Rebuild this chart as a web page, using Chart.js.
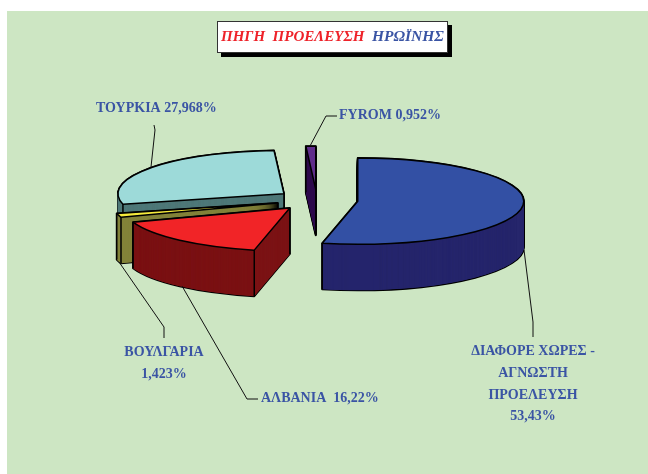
<!DOCTYPE html>
<html>
<head>
<meta charset="utf-8">
<style>
html,body{margin:0;padding:0;background:#fff;overflow:hidden}
canvas{display:block}
</style>
<script src="https://cdn.jsdelivr.net/npm/chart.js@4"></script>
</head>
<body>
<canvas id="c" width="648" height="474"></canvas>
<script>
const categories = ['ΔΙΑΦΟΡΕ ΧΩΡΕΣ - ΑΓΝΩΣΤΗ ΠΡΟΕΛΕΥΣΗ', 'ΑΛΒΑΝΙΑ', 'ΒΟΥΛΓΑΡΙΑ', 'ΤΟΥΡΚΙΑ', 'FYROM'];
const shares = [53.43, 16.22, 1.423, 27.968, 0.952];
const topColors = ['#3350a4', '#f12427', '#f5ea3c', '#9ddad9', '#5f2d8a'];
const sideColors = ['#26266c', '#7b1214', '#83833a', '#4f7878', '#330e4f'];

const SQUASH = 0.26, DEPTH = 46, EXPLODE = 164;
const INK = '#000', TEXT = '#3a54a4', RED = '#ee2229';
const LABEL_FONT = 'bold 14px "Liberation Serif"';

const labelLines = [
  {text: 'ΤΟΥΡΚΙΑ 27,968%', x: 96, y: 108, align: 'left'},
  {text: 'FYROM 0,952%', x: 339, y: 115, align: 'left'},
  {text: 'ΒΟΥΛΓΑΡΙΑ', x: 164, y: 352, align: 'center'},
  {text: '1,423%', x: 164, y: 374, align: 'center'},
  {text: 'ΑΛΒΑΝΙΑ  16,22%', x: 261, y: 398, align: 'left'},
  {text: 'ΔΙΑΦΟΡΕ ΧΩΡΕΣ -', x: 533, y: 351, align: 'center'},
  {text: 'ΑΓΝΩΣΤΗ', x: 533, y: 373, align: 'center'},
  {text: 'ΠΡΟΕΛΕΥΣΗ', x: 533, y: 395, align: 'center'},
  {text: '53,43%', x: 533, y: 416, align: 'center'}
];
const leaders = [
  [[151,167],[155,130],[154,125]],
  [[310,146],[326,116],[337,116]],
  [[119,262],[164,327],[164,338]],
  [[182,286],[247,399],[258,399]],
  [[524,250],[533,322],[533,337]]
];

function geom(arc) {
  const mid = (arc.startAngle + arc.endAngle) / 2;
  return {
    x: arc.x + Math.cos(mid) * EXPLODE / 4,
    y: arc.y + Math.sin(mid) * EXPLODE / 4,
    r: arc.outerRadius, s: arc.startAngle, e: arc.endAngle, cy: arc.y, mid
  };
}
function squash(ctx, cy, dy) {
  ctx.translate(0, dy + cy);
  ctx.scale(1, SQUASH);
  ctx.translate(0, -cy);
}
function sectorPath(ctx, g, dy) {
  ctx.save();
  squash(ctx, g.cy, dy);
  ctx.beginPath();
  ctx.moveTo(g.x, g.y);
  ctx.arc(g.x, g.y, g.r, g.s, g.e);
  ctx.closePath();
  ctx.restore();
}
function fillLayer(ctx, arc, g, color, dy) {
  const orig = arc.options;
  arc.options = Object.assign({}, orig, {backgroundColor: color, borderWidth: 0, offset: 0});
  ctx.save();
  squash(ctx, g.cy, dy);
  ctx.translate(g.x - arc.x, g.y - arc.y);
  arc.draw(ctx);
  ctx.restore();
  arc.options = orig;
}
function screenY(g, y) { return g.cy + (y - g.cy) * SQUASH; }
function coversBelow(g, px, py) {
  const u = px - g.x;
  const v = (py + 3 - screenY(g, g.y)) / SQUASH;
  if (Math.hypot(u, v) >= g.r) return false;
  const t = 2 * Math.PI;
  let a = Math.atan2(v, u);
  while (a < g.s) a += t;
  return a <= g.e;
}

const pie3d = {
  id: 'pie3d',
  beforeDraw(chart) {
    const ctx = chart.ctx;
    ctx.save();
    ctx.fillStyle = '#fff';
    ctx.fillRect(0, 0, chart.width, chart.height);
    ctx.fillStyle = '#cde6c3';
    ctx.fillRect(7, 11, chart.width - 7, chart.height - 11);
    ctx.restore();
  },
  beforeDatasetDraw(chart) {
    const ctx = chart.ctx;
    const arcs = chart.getDatasetMeta(0).data;
    const order = arcs.map((a, i) => i).sort((p, q) => geom(arcs[p]).y - geom(arcs[q]).y);
    ctx.save();
    ctx.lineJoin = 'round';
    ctx.strokeStyle = INK;
    for (const i of order) {
      const arc = arcs[i], g = geom(arc);
      ctx.lineWidth = 2;
      for (let d = DEPTH; d >= 0; d--) { sectorPath(ctx, g, d); ctx.stroke(); }
      for (let d = DEPTH; d > 0; d -= 0.25) fillLayer(ctx, arc, g, sideColors[i], d);
      fillLayer(ctx, arc, g, topColors[i], 0);
      ctx.lineWidth = 1.5;
      const sy = screenY(g, g.y);
      const pts = [[g.x, sy],
        [g.x + Math.cos(g.s) * g.r, sy + Math.sin(g.s) * g.r * SQUASH],
        [g.x + Math.cos(g.e) * g.r, sy + Math.sin(g.e) * g.r * SQUASH]];
      for (const [px, py] of pts) {
        if (coversBelow(g, px, py)) continue;
        ctx.beginPath(); ctx.moveTo(px, py); ctx.lineTo(px, py + DEPTH); ctx.stroke();
      }
      sectorPath(ctx, g, 0);
      ctx.stroke();
    }
    ctx.restore();
    return false;
  },
  afterDraw(chart) {
    const ctx = chart.ctx;
    ctx.save();
    ctx.strokeStyle = '#111';
    ctx.lineWidth = 1;
    for (const path of leaders) {
      ctx.beginPath();
      path.forEach(([x, y], i) => i ? ctx.lineTo(x, y) : ctx.moveTo(x, y));
      ctx.stroke();
    }
    ctx.font = LABEL_FONT;
    ctx.fillStyle = TEXT;
    ctx.textBaseline = 'middle';
    for (const l of labelLines) {
      ctx.textAlign = l.align;
      ctx.fillText(l.text, l.x, l.y);
    }
    // title box
    ctx.fillStyle = '#000';
    ctx.fillRect(221, 25, 231, 32);
    ctx.fillStyle = '#fff';
    ctx.strokeStyle = '#333';
    ctx.lineWidth = 1;
    ctx.fillRect(217, 21, 231, 32);
    ctx.strokeRect(217.5, 21.5, 230, 31);
    ctx.textAlign = 'left';
    ctx.font = 'italic bold 15px "Liberation Serif"';
    ctx.fillStyle = RED;
    ctx.fillText('ΠΗΓΗ  ΠΡΟΕΛΕΥΣΗ', 221, 37);
    ctx.font = 'italic bold 15.5px "Liberation Serif"';
    ctx.fillStyle = TEXT;
    ctx.fillText('ΗΡΩΪΝΗΣ', 372, 37);
    ctx.restore();
  }
};

new Chart(document.getElementById('c'), {
  type: 'pie',
  data: {
    labels: categories,
    datasets: [{
      data: shares,
      backgroundColor: topColors,
      borderWidth: 0,
      radius: 166,
      offset: EXPLODE
    }]
  },
  options: {
    responsive: false,
    animation: false,
    events: [],
    rotation: 0,
    layout: {padding: {right: 14, bottom: 74}},
    plugins: {legend: {display: false}, title: {display: false}, tooltip: {enabled: false}}
  },
  plugins: [pie3d]
});
</script>
</body>
</html>
